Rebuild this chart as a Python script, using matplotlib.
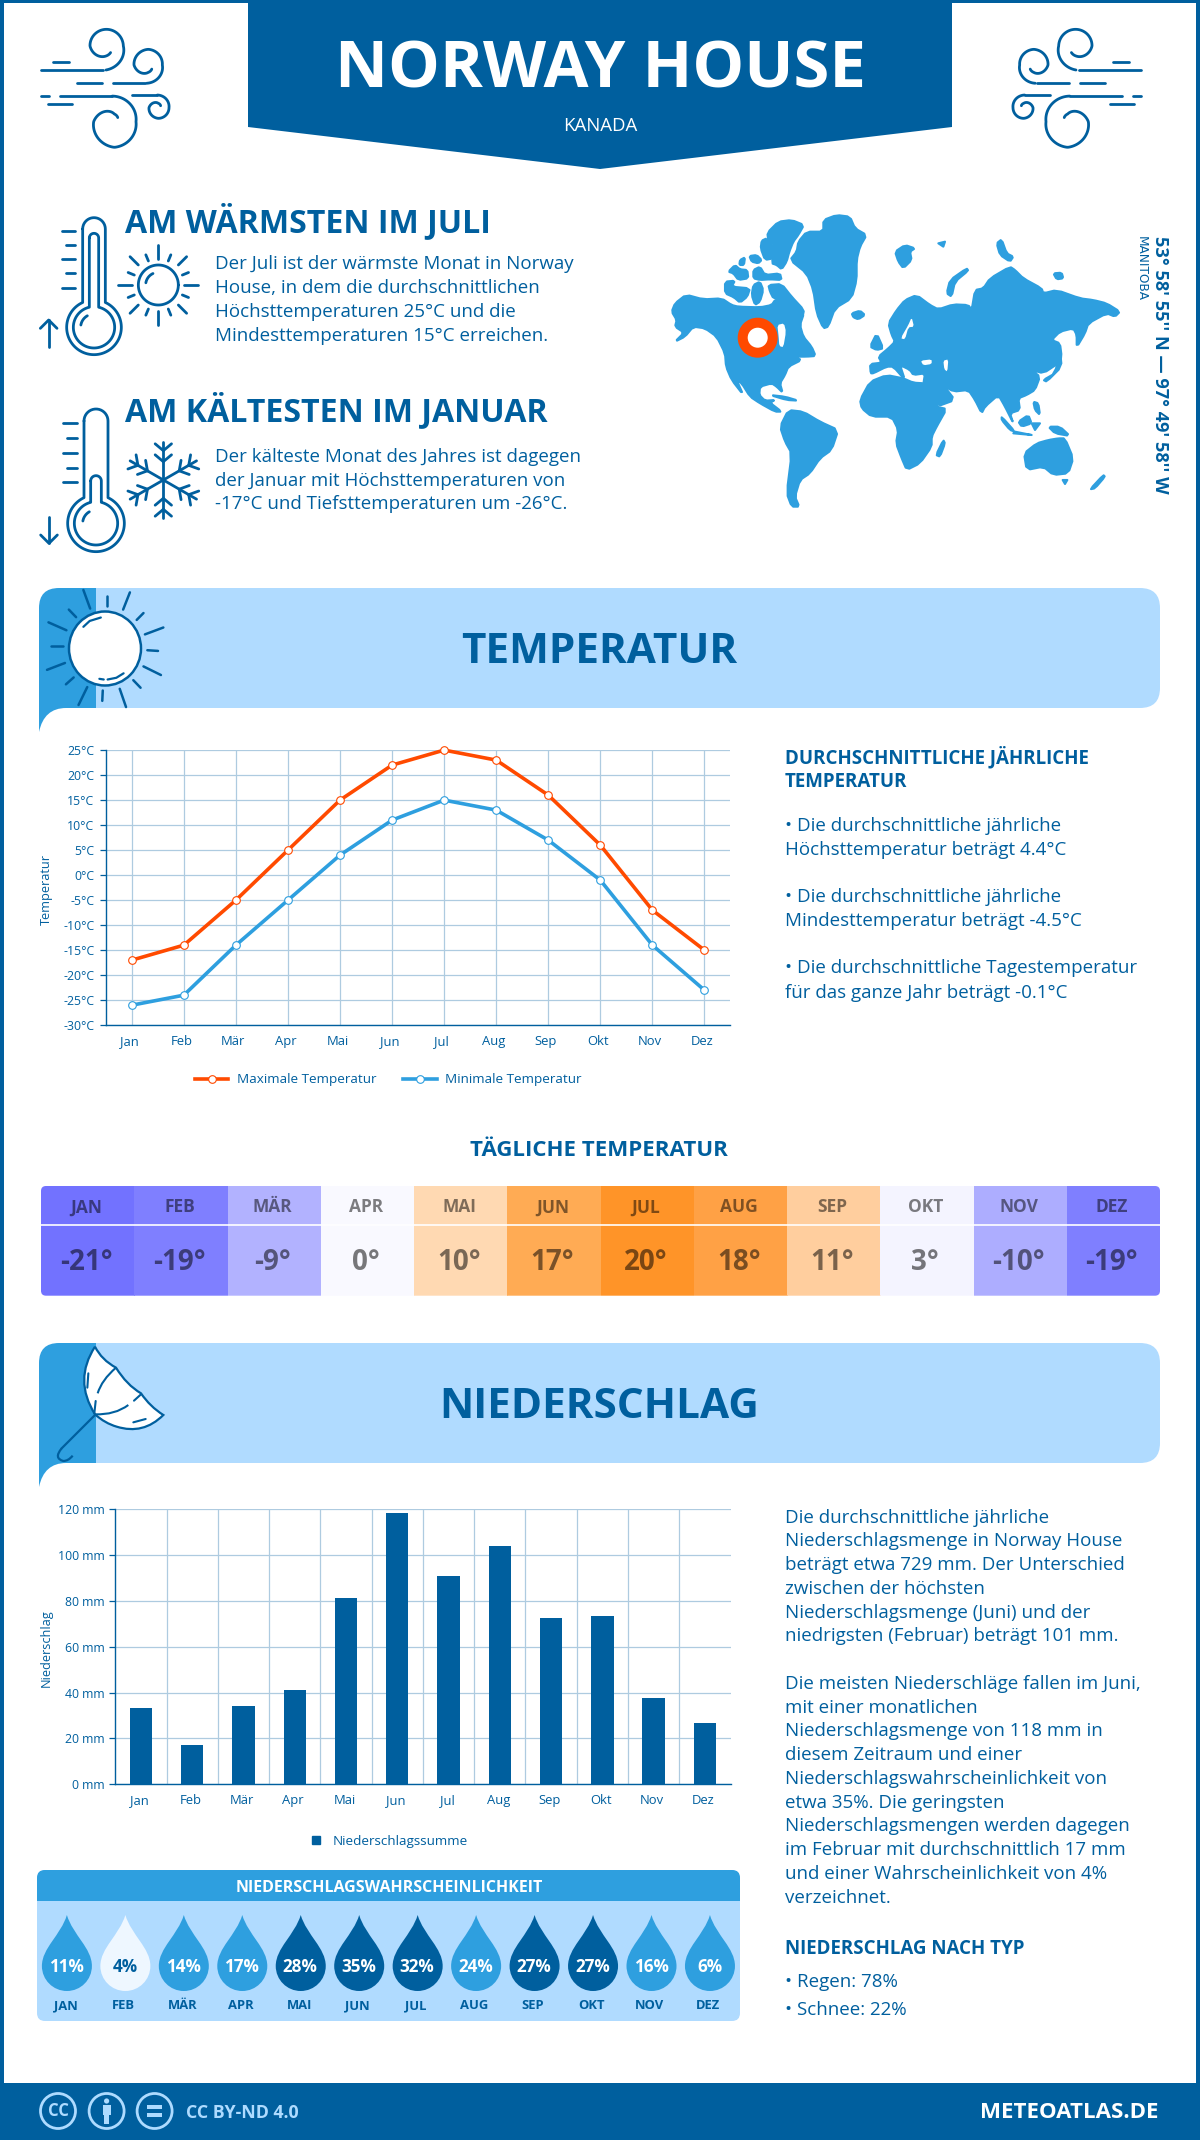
import numpy as np
import matplotlib
matplotlib.use('Agg')
import matplotlib.pyplot as plt
from matplotlib.patches import Polygon, Rectangle, Circle, Ellipse, PathPatch, FancyBboxPatch
from matplotlib.path import Path
from matplotlib.lines import Line2D
from matplotlib.transforms import ScaledTranslation

plt.rcParams['font.family'] = ['Open Sans', 'DejaVu Sans']

# ---------------------------------------------------------------------------
# Colors
# ---------------------------------------------------------------------------
DARK = '#005F9E'
MID = '#2E9FDF'
LIGHT = '#B0DBFF'
RED = '#FF4A00'
GRID = '#AECBE0'

# ---------------------------------------------------------------------------
# Data
# ---------------------------------------------------------------------------
MONTHS = ['Jan', 'Feb', 'Mär', 'Apr', 'Mai', 'Jun', 'Jul', 'Aug', 'Sep', 'Okt', 'Nov', 'Dez']
MONTHS_UP = ['JAN', 'FEB', 'MÄR', 'APR', 'MAI', 'JUN', 'JUL', 'AUG', 'SEP', 'OKT', 'NOV', 'DEZ']

TEMP_MAX = [-17, -14, -5, 5, 15, 22, 25, 23, 16, 6, -7, -15]
TEMP_MIN = [-26, -24, -14, -5, 4, 11, 15, 13, 7, -1, -14, -23]
TEMP_TICKS = [25, 20, 15, 10, 5, 0, -5, -10, -15, -20, -25, -30]

DAILY = [-21, -19, -9, 0, 10, 17, 20, 18, 11, 3, -10, -19]
DAILY_COLORS = ['#7272FF', '#7F7FFF', '#B2B2FF', '#F9F9FF', '#FFD9B2', '#FFAB54',
                '#FF9428', '#FFA145', '#FFCE9E', '#F4F4FF', '#ADADFF', '#7F7FFF']

RAIN = [33.3, 17.2, 34.2, 41.2, 81.3, 118.4, 90.9, 104.0, 72.6, 73.5, 37.7, 26.8]
RAIN_TICKS = [0, 20, 40, 60, 80, 100, 120]

CHANCE = [11, 4, 14, 17, 28, 35, 32, 24, 27, 27, 16, 6]
CHANCE_COLORS = [MID, '#EEF7FF', MID, MID, DARK, DARK, DARK, MID, DARK, DARK, MID, MID]

WARM_LINES = ['Der Juli ist der wärmste Monat in Norway',
              'House, in dem die durchschnittlichen',
              'Höchsttemperaturen 25°C und die',
              'Mindesttemperaturen 15°C erreichen.']
COLD_LINES = ['Der kälteste Monat des Jahres ist dagegen',
              'der Januar mit Höchsttemperaturen von',
              '-17°C und Tiefsttemperaturen um -26°C.']
TEMP_LINES = [(826, '• Die durchschnittliche jährliche'),
              (850, 'Höchsttemperatur beträgt 4.4°C'),
              (897, '• Die durchschnittliche jährliche'),
              (921, 'Mindesttemperatur beträgt -4.5°C'),
              (968, '• Die durchschnittliche Tagestemperatur'),
              (993, 'für das ganze Jahr beträgt -0.1°C')]
RAIN_LINES = [(1518, 'Die durchschnittliche jährliche'),
              (1541, 'Niederschlagsmenge in Norway House'),
              (1565, 'beträgt etwa 729 mm. Der Unterschied'),
              (1589, 'zwischen der höchsten'),
              (1613, 'Niederschlagsmenge (Juni) und der'),
              (1636, 'niedrigsten (Februar) beträgt 101 mm.'),
              (1684, 'Die meisten Niederschläge fallen im Juni,'),
              (1708, 'mit einer monatlichen'),
              (1731, 'Niederschlagsmenge von 118 mm in'),
              (1755, 'diesem Zeitraum und einer'),
              (1779, 'Niederschlagswahrscheinlichkeit von'),
              (1803, 'etwa 35%. Die geringsten'),
              (1826, 'Niederschlagsmengen werden dagegen'),
              (1850, 'im Februar mit durchschnittlich 17 mm'),
              (1874, 'und einer Wahrscheinlichkeit von 4%'),
              (1898, 'verzeichnet.'),
              (1982, '• Regen: 78%'),
              (2010, '• Schnee: 22%')]

# Rough world map outlines, traced in map-crop coordinates
MAP_LAND = [
    # North America
    [(35, 305), (45, 280), (78, 254), (130, 268), (185, 265), (215, 285), (235, 290), (300, 292), (335, 285),
     (345, 270), (372, 268), (400, 290), (432, 310), (420, 345), (430, 380), (455, 410), (467, 438), (440, 440),
     (400, 440), (425, 450), (385, 470), (375, 495), (360, 520), (368, 548), (350, 530), (335, 520),
     (300, 530), (298, 555), (315, 572), (345, 570), (330, 578), (365, 605), (345, 605), (300, 580),
     (270, 560), (245, 520), (230, 510), (250, 555), (215, 510), (198, 470), (195, 430), (170, 380),
     (135, 355), (100, 350), (75, 380), (45, 395), (72, 368), (45, 350), (50, 330)],
    # Arctic islands
    [(325, 225), (365, 222), (395, 260), (432, 300), (428, 320), (405, 312), (390, 295), (372, 285), (375, 272), (340, 265), (330, 245)],
    [(195, 215), (225, 212), (215, 230), (270, 235), (262, 260), (240, 278), (222, 262), (195, 250)],
    [(280, 225), (300, 215), (310, 240), (300, 275), (285, 285), (275, 255)],
    [(205, 185), (225, 165), (240, 178), (262, 180), (265, 205), (235, 210), (220, 190)],
    [(280, 180), (300, 170), (315, 195), (360, 190), (365, 210), (330, 208), (300, 210), (280, 205)],
    [(240, 150), (255, 142), (252, 165), (238, 165)],
    [(268, 138), (290, 135), (305, 150), (295, 160), (275, 155)],
    [(305, 92), (320, 85), (345, 115), (340, 145), (315, 150), (302, 115)],
    [(322, 68), (355, 35), (395, 30), (432, 45), (415, 75), (400, 95), (388, 125), (380, 155), (365, 178), (350, 165), (335, 160), (345, 115), (340, 100), (325, 95)],
    # Greenland, Iceland, Svalbard and friends
    [(415, 95), (440, 65), (490, 65), (490, 30), (530, 15), (570, 20), (585, 55), (620, 75), (600, 110),
     (590, 150), (590, 210), (575, 265), (525, 295), (505, 350), (490, 355), (470, 310), (460, 240), (440, 190), (390, 150), (410, 125)],
    [(575, 310), (600, 302), (615, 315), (595, 328), (580, 322)],
    [(705, 125), (735, 105), (765, 115), (750, 125), (755, 150), (730, 175), (715, 155)],
    [(835, 100), (855, 95), (850, 110)],
    [(860, 250), (870, 210), (920, 175), (925, 182), (885, 215), (875, 260)],
    [(1010, 100), (1025, 88), (1040, 130), (1060, 140), (1050, 155), (1020, 135)],
    [(1180, 190), (1205, 188), (1210, 205), (1190, 208)],
    # South America
    [(360, 650), (385, 600), (430, 605), (480, 635), (535, 660), (515, 720), (480, 745), (450, 790),
     (420, 810), (405, 860), (418, 890), (395, 890), (380, 850), (395, 730), (375, 695)],
    [(330, 555), (375, 560), (415, 572), (380, 570)],
    # Africa
    [(600, 570), (630, 515), (680, 495), (730, 505), (760, 518), (795, 520), (830, 590), (860, 597),
     (830, 650), (815, 680), (815, 710), (780, 760), (740, 780), (725, 745), (708, 700), (715, 660),
     (695, 620), (635, 620), (605, 595)],
    [(850, 690), (855, 700), (840, 740), (828, 735)],
    # Eurasia
    [(632, 490), (630, 462), (665, 458), (655, 440), (685, 415), (705, 395), (695, 375), (685, 340),
     (710, 300), (735, 270), (770, 255), (810, 285), (835, 298), (880, 283), (925, 285), (935, 300), (945, 240),
     (970, 235), (990, 205), (1050, 170), (1065, 180), (1090, 205), (1145, 235), (1150, 250), (1190, 240),
     (1260, 265), (1300, 270), (1340, 280), (1380, 305),
     (1365, 320), (1340, 310), (1285, 340), (1275, 370), (1250, 412), (1250, 375), (1240, 355), (1200, 365), (1175, 390),
     (1200, 400), (1205, 440), (1195, 460), (1150, 490), (1115, 480), (1140, 500), (1125, 540), (1100, 555), (1075, 565),
     (1080, 600), (1050, 610), (1060, 640), (1035, 590), (1015, 555), (975, 590), (965, 610), (945, 570),
     (925, 540), (880, 545), (850, 525), (885, 570), (830, 590), (790, 522), (795, 490), (760, 495),
     (750, 480), (720, 465), (735, 510), (700, 470), (680, 470), (640, 490)],
    [(630, 410), (650, 370), (670, 415), (650, 420)],
    [(1150, 510), (1185, 490), (1200, 420), (1205, 470), (1160, 515)],
    # Oceania and the islands
    [(1092, 730), (1130, 700), (1165, 690), (1195, 685), (1215, 685), (1240, 745), (1225, 790),
     (1180, 795), (1150, 770), (1100, 780)],
    [(1290, 838), (1330, 795), (1335, 800), (1305, 835)],
    [(1208, 810), (1222, 810), (1215, 822)],
    [(1025, 620), (1065, 665), (1050, 660), (1025, 630)],
    [(1065, 665), (1115, 675), (1060, 670)],
    [(1075, 635), (1105, 615), (1115, 640), (1085, 650)],
    [(1115, 640), (1140, 640), (1125, 660)],
    [(1165, 650), (1200, 650), (1230, 678), (1185, 670)],
    [(1120, 575), (1135, 580), (1140, 615), (1125, 600)],
]
MAP_WATER = [
    [(352, 345), (372, 340), (378, 365), (370, 412), (358, 408), (356, 380)],
    [(782, 452), (815, 448), (815, 462), (790, 466)],
    [(850, 452), (865, 448), (862, 485), (853, 478)],
    [(722, 385), (745, 345), (755, 322), (762, 350), (745, 352), (735, 388)],
]

# ---------------------------------------------------------------------------
# Canvas: one full-figure axes in image pixels for everything decorative
# ---------------------------------------------------------------------------
W, H = 1200, 2140
fig = plt.figure(figsize=(W / 100, H / 100), dpi=100, facecolor='white')
bg = fig.add_axes([0, 0, 1, 1], zorder=0)
bg.set_xlim(0, W)
bg.set_ylim(H, 0)
bg.axis('off')


def px_axes(left, top, right, bottom):
    return fig.add_axes([left / W, 1 - bottom / H, (right - left) / W, (bottom - top) / H], zorder=2)


def txt(x, y, s, size, weight='normal', color=DARK, ha='left', **kw):
    return bg.text(x, y, s, fontsize=size, fontweight=weight, color=color, ha=ha, va='center', **kw)


def line(pts, lw=2.0, color=DARK, zorder=4):
    pts = np.asarray(pts, dtype=float)
    bg.plot(pts[:, 0], pts[:, 1], color=color, lw=lw, solid_capstyle='round',
            solid_joinstyle='round', zorder=zorder)


def spiral(cx, cy, angles, radii):
    t = np.linspace(angles[0], angles[-1], 120)
    if angles[0] > angles[-1]:
        r = np.interp(t, angles[::-1], radii[::-1])
    else:
        r = np.interp(t, angles, radii)
    a = np.radians(t)
    return np.column_stack([cx + r * np.cos(a), cy + r * np.sin(a)])


def chaikin(poly, rounds=2):
    # round off the corners of a hand-traced outline
    pts = np.asarray(poly, dtype=float)
    for _ in range(rounds):
        nxt = np.roll(pts, -1, axis=0)
        pts = np.column_stack([0.8 * pts + 0.2 * nxt, 0.2 * pts + 0.8 * nxt]).reshape(-1, 2)
    return pts


def shift_labels(axis, px):
    # the reference's month labels sit a little left of their gridlines
    off = ScaledTranslation(px / 100, 0, fig.dpi_scale_trans)
    for lbl in axis.get_xticklabels():
        lbl.set_transform(lbl.get_transform() + off)


# ---------------------------------------------------------------------------
# Frame and top banner
# ---------------------------------------------------------------------------
bg.add_patch(Rectangle((0, 0), 3.5, H, color=DARK, lw=0))
bg.add_patch(Rectangle((1196, 0), 4, H, color=DARK, lw=0))
bg.add_patch(Rectangle((0, 0), W, 3, color=DARK, lw=0))
bg.add_patch(Polygon([(248, 0), (952, 0), (952, 127), (600, 169), (248, 127)], color=DARK, lw=0))
txt(600, 71, 'NORWAY HOUSE', 47, 'bold', 'white', ha='center')
txt(600, 126, 'KANADA', 13.4, color='white', ha='center')


def wind(mirror_at=None):
    def tr(pts):
        pts = np.asarray(pts, dtype=float)
        out = np.column_stack([20 + pts[:, 0] / 3, 10 + pts[:, 1] / 3])
        if mirror_at is not None:
            out[:, 0] = mirror_at - out[:, 0]
        return out
    line(tr([(62, 180), (250, 180)]))
    line(tr(spiral(258, 108, [90, 0, -90, -180, -270, -305], [72, 52, 50, 48, 30, 24])))
    line(tr([(100, 155), (148, 155)]))
    line(tr([(170, 220), (245, 220)]))
    line(tr([(278, 220), (375, 220)]))
    line(tr(spiral(385, 165, [95, 0, -90, -180, -270, -310], [55, 42, 47, 43, 22, 16])))
    line(tr([(62, 258), (88, 258)]))
    line(tr([(120, 258), (275, 258)]))
    line(tr(spiral(283, 335, [-95, 0, 90, 180, 270, 310], [77, 65, 77, 62, 23, 16])))
    line(tr([(85, 283), (155, 283)]))
    line(tr([(337, 255), (410, 255)]))
    line(tr(spiral(415, 293, [-95, 0, 90, 180, 270, 320], [38, 32, 32, 28, 13, 9])))


wind()
wind(mirror_at=1182)

# ---------------------------------------------------------------------------
# Warmest / coldest block
# ---------------------------------------------------------------------------
txt(125, 222, 'AM WÄRMSTEN IM JULI', 23.1, 'bold')
txt(125, 411, 'AM KÄLTESTEN IM JANUAR', 23.1, 'bold')
for i, s in enumerate(WARM_LINES):
    txt(215, 264 + i * 24, s, 13.5)
for i, s in enumerate(COLD_LINES):
    txt(215, 457 + i * 23.5, s, 13.5)


def z9(pts):
    pts = np.asarray(pts, dtype=float)
    return np.column_stack([30 + pts[:, 0] / 3, 205 + pts[:, 1] / 3])


def tube(cx, half, top, by, r):
    # thermometer outline: up the left side, round the top, round the bulb
    a0 = np.degrees(np.arcsin(half / r))
    cap = np.radians(np.linspace(180, 360, 20))
    cap_pts = np.column_stack([cx + half * np.cos(cap), top + half + half * np.sin(cap)])
    bulb = np.radians(np.linspace(-90 + a0, 270 - a0, 80))
    bulb_pts = np.column_stack([cx + r * np.cos(bulb), by + r * np.sin(bulb)])
    return np.vstack([cap_pts, bulb_pts, cap_pts[:1]])


def thermometer(cx, by, r, half, top, inner_half, inner_top, inner_r, tick_ys, tick_x0, tick_x1, arrow):
    line(z9(tube(cx, half, top, by, r)))
    line(z9(tube(cx, inner_half, inner_top, by, inner_r)))
    line(z9(spiral(cx, by, [-170, -120], [40, 40])))
    for i, y in enumerate(tick_ys):
        x0 = tick_x0 if i % 2 == 0 else tick_x0 + 10
        line(z9([(x0, y), (tick_x1, y)]))
    x, y0, y1 = arrow
    d = 25 if y1 < y0 else -25
    line(z9([(x, y0), (x, y1)]))
    line(z9([(x - 25, y1 + d), (x, y1), (x + 25, y1 + d)]))


thermometer(192, 367, 82, 34, 38, 14, 85, 62, [77, 120, 163, 205, 248], 97, 135, (56, 425, 345))
thermometer(198, 955, 85, 36, 612, 16, 812, 65, [655, 699, 743, 788, 832], 100, 140, (57, 935, 1015))

# little sun
line(z9(spiral(385, 240, [0, 360], [60, 60])))
line(z9(spiral(385, 240, [-170, -115], [38, 38])))
for ang in np.arange(0, 360, 45):
    a = np.radians(ang)
    r0, r1 = (78, 120) if ang % 90 == 0 else (85, 120)
    line(z9([(385 + r0 * np.cos(a), 240 + r0 * np.sin(a)), (385 + r1 * np.cos(a), 240 + r1 * np.sin(a))]))
    b = a + np.radians(22.5)
    line(z9([(385 + 78 * np.cos(b), 240 + 78 * np.sin(b)), (385 + 98 * np.cos(b), 240 + 98 * np.sin(b))]))

# snowflake
for ang in np.arange(30, 390, 60):
    a = np.radians(ang)
    u = np.array([np.cos(a), np.sin(a)])
    c = np.array([400.0, 825.0])
    line(z9([c, c + 115 * u]))
    for dist, size in [(55, 32), (88, 32)]:
        for side in (-50, 50):
            s = np.radians(ang + side)
            p = c + dist * u
            line(z9([p, p + size * np.array([np.cos(s), np.sin(s)])]))

# map
for poly in MAP_LAND:
    pts = chaikin(poly, 1) if len(poly) > 3 else np.asarray(poly, dtype=float)
    pts = np.column_stack([660 + pts[:, 0] / 3, 210 + pts[:, 1] / 3])
    bg.add_patch(Polygon(pts, closed=True, facecolor=MID, edgecolor=MID, lw=1.5, joinstyle='round'))
for poly in MAP_WATER:
    pts = chaikin(poly, 1)
    pts = np.column_stack([660 + pts[:, 0] / 3, 210 + pts[:, 1] / 3])
    bg.add_patch(Polygon(pts, closed=True, facecolor='white', edgecolor='none'))
bg.add_patch(Circle((757.7, 337.7), 20, color=RED, lw=0, zorder=3))
bg.add_patch(Circle((757.7, 337.7), 10, color='white', lw=0, zorder=3))

bg.text(1160, 365, "53° 58' 55'' N — 97° 49' 58'' W", fontsize=13.1, fontweight='bold', color=DARK,
        rotation=270, ha='center', va='center')
bg.text(1141, 236, 'MANITOBA', fontsize=8.7, color=DARK, rotation=270, ha='center', va='top',
        family=['DejaVu Sans'])


# ---------------------------------------------------------------------------
# Section banners
# ---------------------------------------------------------------------------
def section_banner(top, bottom, title):
    tail = bottom + 24
    light = FancyBboxPatch((70, top), 1090, bottom - top, boxstyle='round,pad=0,rounding_size=20',
                           facecolor=LIGHT, edgecolor='none')
    bg.add_patch(light)
    verts = [(96, top), (59, top), (39, top), (39, top + 20), (39, tail), (44, bottom), (66, bottom),
             (96, bottom), (96, top)]
    codes = [Path.MOVETO, Path.LINETO, Path.CURVE3, Path.CURVE3, Path.LINETO, Path.CURVE3, Path.CURVE3,
             Path.LINETO, Path.CLOSEPOLY]
    bg.add_patch(PathPatch(Path(verts, codes), facecolor=MID, edgecolor='none'))
    txt(599, bottom - (bottom - top) / 2 + 4.5, title, 30.4, 'bold', ha='center')


section_banner(588, 708, 'TEMPERATUR')
section_banner(1343, 1463, 'NIEDERSCHLAG')


def z2(pts):
    pts = np.asarray(pts, dtype=float)
    return np.column_stack([pts[:, 0] / 2.063, 570 + pts[:, 1] / 2.904])


SUN_RAYS = [((172, 58), (186, 112)), ((220, 75), (220, 105)), ((268, 65), (254, 115)), ((296, 125), (282, 145)),
            ((337, 167), (299, 187)), ((304, 233), (326, 235)), ((296, 280), (332, 305)), ((275, 320), (290, 342)),
            ((247, 345), (260, 398)), ((212, 350), (211, 380)), ((180, 340), (162, 392)), ((152, 312), (136, 332)),
            ((134, 270), (97, 290)), ((106, 222), (130, 222)), ((137, 175), (100, 152)), ((157, 137), (142, 115))]
for a, b in SUN_RAYS:
    line(z2([a, b]), lw=1.8)
bg.add_patch(Ellipse((105, 648.5), 72, 74, facecolor='white', edgecolor=DARK, lw=1.8, zorder=4))
line(z2([(172, 165), (185, 148), (208, 138)]), lw=1.6, zorder=5)
line(z2([(222, 318), (240, 313), (255, 300)]), lw=1.6, zorder=5)
line(z2([(205, 316), (214, 318)]), lw=1.6, zorder=5)


def z10(pts):
    pts = np.asarray(pts, dtype=float)
    return np.column_stack([30 + pts[:, 0] / 3, 1335 + pts[:, 1] / 3])


def curve(anchors):
    # quadratic pieces: start, ctrl, end, ctrl, end ...
    codes = [Path.MOVETO] + [Path.CURVE3] * (len(anchors) - 1)
    return Path(z10(anchors), codes)


canopy = [(195, 35), (215, 75), (258, 98), (290, 150), (333, 175), (360, 215), (400, 240),
          (340, 300), (260, 275), (225, 265), (195, 238), (130, 135), (195, 35)]
bg.add_patch(PathPatch(curve(canopy), facecolor='white', edgecolor=DARK, lw=1.6, zorder=4))
for anchors in [[(195, 238), (255, 240), (295, 210)], [(258, 98), (215, 135), (203, 175)]]:
    bg.add_patch(PathPatch(curve(anchors), facecolor='none', edgecolor=DARK, lw=1.5, zorder=5))
line(z10([(175, 115), (172, 158)]), lw=1.5, zorder=5)
line(z10([(197, 198), (193, 235)]), lw=1.5, zorder=5)
line(z10([(312, 197), (333, 178)]), lw=1.5, zorder=5)
line(z10([(310, 262), (347, 252)]), lw=1.5, zorder=5)
line(z10([(195, 240), (95, 340)]), lw=1.6, zorder=5)
bg.add_patch(PathPatch(curve([(95, 340), (70, 370), (100, 378), (115, 378), (128, 362)]),
                       facecolor='none', edgecolor=DARK, lw=1.6, zorder=5))

# ---------------------------------------------------------------------------
# Temperature chart
# ---------------------------------------------------------------------------
x = np.arange(12)
ax = px_axes(105.7, 750.1, 730.5, 1025.2)
ax.set_facecolor('none')
ax.set_xlim(-0.5, 11.5)
ax.set_ylim(-30, 25)
ax.grid(True, color=GRID, lw=0.9)
ax.set_axisbelow(True)
ax.plot(x, TEMP_MAX, color=RED, lw=2.6, marker='o', ms=5.5, mfc='white', mec=RED, mew=0.8,
        clip_on=False, label='Maximale Temperatur')
ax.plot(x, TEMP_MIN, color=MID, lw=2.6, marker='o', ms=5.5, mfc='white', mec=MID, mew=0.8,
        clip_on=False, label='Minimale Temperatur')
ax.set_xticks(x)
ax.set_xticklabels(MONTHS)
ax.set_yticks(TEMP_TICKS)
ax.set_yticklabels([f'{t}°C' for t in TEMP_TICKS])
ax.tick_params(axis='x', length=0, pad=7, labelsize=9.4, labelcolor=DARK)
ax.tick_params(axis='y', length=4.5, width=0.9, color=DARK, pad=3.5, labelsize=8.8, labelcolor=DARK)
shift_labels(ax, -2.5)
for side in ('top', 'right'):
    ax.spines[side].set_visible(False)
for side in ('left', 'bottom'):
    ax.spines[side].set_color(DARK)
    ax.spines[side].set_linewidth(1)
ax.legend(loc='center', bbox_to_anchor=(388 / W, 1 - 1080 / H), bbox_transform=fig.transFigure, ncol=2,
          frameon=False, fontsize=9.7, labelcolor=DARK, handlelength=2.5, columnspacing=2.0, handletextpad=0.6)
txt(46, 889.6, 'Temperatur', 9.2, ha='center', rotation=90)

# right-hand text
txt(785, 757.5, 'DURCHSCHNITTLICHE JÄHRLICHE', 13.5, 'bold')
txt(785, 782, 'TEMPERATUR', 13.5, 'bold')
for y, s in TEMP_LINES:
    txt(785, y, s, 13.5)

# ---------------------------------------------------------------------------
# Daily temperature table
# ---------------------------------------------------------------------------
txt(599, 1150, 'TÄGLICHE TEMPERATUR', 16, 'bold', ha='center')
tx0, tx1, ty0, ty1, tsep = 41, 1160, 1186, 1295.7, 1225
cell = (tx1 - tx0) / 12
clip = FancyBboxPatch((tx0, ty0), tx1 - tx0, ty1 - ty0, boxstyle='round,pad=0,rounding_size=5',
                      facecolor='none', edgecolor='none')
bg.add_patch(clip)
for i, (name, val, col) in enumerate(zip(MONTHS_UP, DAILY, DAILY_COLORS)):
    r = bg.add_patch(Rectangle((tx0 + i * cell, ty0), cell + 0.5, ty1 - ty0, facecolor=col, edgecolor='none'))
    r.set_clip_path(clip)
    cx = tx0 + (i + 0.5) * cell
    txt(cx - 1.5, 1207.5, name, 12.5, 'bold', color='#000000', ha='center', alpha=0.5)
    txt(cx - 1.5, 1263, f'{val}°', 20, 'bold', color='#000000', ha='center', alpha=0.52)
bg.plot([tx0, tx1], [tsep, tsep], color='white', lw=1.2, zorder=3)

# ---------------------------------------------------------------------------
# Precipitation chart
# ---------------------------------------------------------------------------
ax2 = px_axes(115.4, 1509.3, 730.5, 1784.3)
ax2.set_facecolor('none')
ax2.bar(x, RAIN, width=0.435, color=DARK, label='Niederschlagssumme', zorder=3)
ax2.set_xlim(-0.5, 11.5)
ax2.set_ylim(0, 120)
ax2.set_xticks(x)
ax2.set_xticklabels(MONTHS)
ax2.set_xticks(x[:-1] + 0.5, minor=True)
ax2.set_yticks(RAIN_TICKS)
ax2.set_yticklabels([f'{t} mm' for t in RAIN_TICKS])
ax2.grid(True, axis='y', color=GRID, lw=0.9)
ax2.grid(True, axis='x', which='minor', color=GRID, lw=0.9)
ax2.set_axisbelow(True)
ax2.tick_params(axis='x', which='both', length=0, pad=7, labelsize=9.4, labelcolor=DARK)
ax2.tick_params(axis='y', length=4, width=0.9, color=DARK, pad=4, labelsize=8.8, labelcolor=DARK)
shift_labels(ax2, -1.5)
for side in ('top', 'right'):
    ax2.spines[side].set_visible(False)
for side in ('left', 'bottom'):
    ax2.spines[side].set_color(DARK)
    ax2.spines[side].set_linewidth(1)
bg.legend(handles=[Line2D([], [], ls='none', marker='s', ms=6, color=DARK, label='Niederschlagssumme')],
          loc='center', bbox_to_anchor=(385 / W, 1 - 1841 / H), bbox_transform=fig.transFigure,
          frameon=False, fontsize=9.7, labelcolor=DARK, handletextpad=0.2)
txt(46, 1648, 'Niederschlag', 9.2, ha='center', rotation=90)

for y, s in RAIN_LINES:
    txt(785, y, s, 13.5)
txt(785, 1949, 'NIEDERSCHLAG NACH TYP', 13.5, 'bold')

# ---------------------------------------------------------------------------
# Probability panel
# ---------------------------------------------------------------------------
panel = FancyBboxPatch((37, 1870), 703, 151, boxstyle='round,pad=0,rounding_size=8', facecolor=LIGHT, edgecolor='none')
bg.add_patch(panel)
head = Rectangle((37, 1870), 703, 31, facecolor=MID, edgecolor='none')
bg.add_patch(head)
head.set_clip_path(panel)
txt(389, 1888, 'NIEDERSCHLAGSWAHRSCHEINLICHKEIT', 11.5, 'bold', 'white', ha='center')


def drop_path(cx):
    top, cy, r = 1915, 1966, 25
    k = 0.5523 * r
    verts = [(cx, top), (cx + 6, top + 20), (cx + r, cy - 18), (cx + r, cy),
             (cx + r, cy + k), (cx + k, cy + r), (cx, cy + r),
             (cx - k, cy + r), (cx - r, cy + k), (cx - r, cy),
             (cx - r, cy - 18), (cx - 6, top + 20), (cx, top), (cx, top)]
    codes = [Path.MOVETO] + [Path.CURVE4] * 12 + [Path.CLOSEPOLY]
    return Path(verts, codes)


for i, (name, val, col) in enumerate(zip(MONTHS_UP, CHANCE, CHANCE_COLORS)):
    cx = 66.9 + i * 58.46
    bg.add_patch(PathPatch(drop_path(cx), facecolor=col, edgecolor='none', zorder=3))
    tcol = DARK if col == '#EEF7FF' else 'white'
    txt(cx - 0.5, 1967.5, f'{val}%', 12.3, 'bold', tcol, ha='center', zorder=4)
    txt(cx - 1.5, 2005.5, name, 9.4, 'bold', ha='center', zorder=4)

# ---------------------------------------------------------------------------
# Footer
# ---------------------------------------------------------------------------
bg.add_patch(Rectangle((0, 2083), W, 57, color=DARK, lw=0, zorder=3))
FOOT = '#AEDBFF'
for cx in (58, 106.6, 154.6):
    bg.add_patch(Circle((cx, 2111), 17.5, facecolor='none', edgecolor=FOOT, lw=2, zorder=4))
txt(58, 2110.5, 'CC', 12, 'bold', FOOT, ha='center', zorder=5)
bg.add_patch(Circle((106.6, 2101), 2.6, color=FOOT, lw=0, zorder=5))
bg.add_patch(Rectangle((102.5, 2105), 8.2, 10, color=FOOT, lw=0, zorder=5))
bg.add_patch(Rectangle((104, 2115), 5.2, 9, color=FOOT, lw=0, zorder=5))
bg.add_patch(Rectangle((147, 2105), 15, 3.5, color=FOOT, lw=0, zorder=5))
bg.add_patch(Rectangle((147, 2113), 15, 3.5, color=FOOT, lw=0, zorder=5))
txt(185.6, 2113, 'CC BY-ND 4.0', 12.8, 'bold', FOOT, zorder=5)
txt(1158, 2113, 'METEOATLAS.DE', 16, 'bold', 'white', ha='right', zorder=5)

fig.savefig('out.png', dpi=100, facecolor='white')
